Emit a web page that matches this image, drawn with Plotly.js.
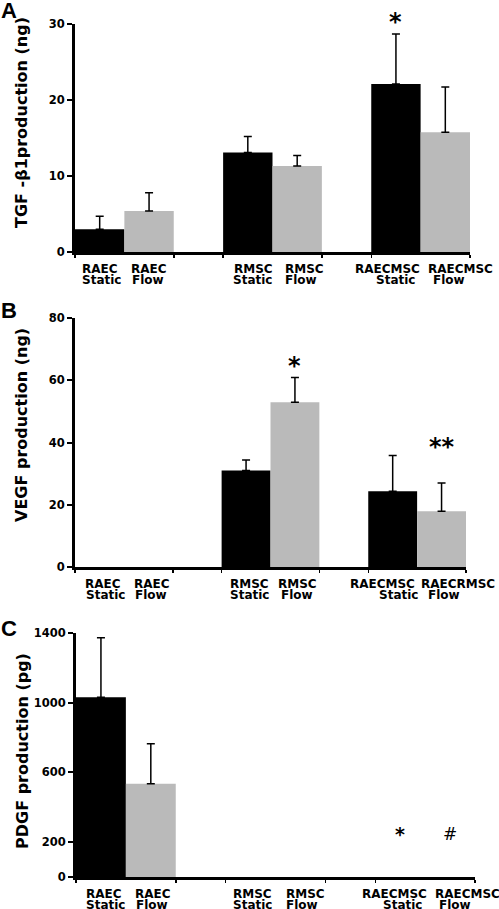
<!DOCTYPE html>
<html>
<head>
<meta charset="utf-8">
<script src="https://cdn.plot.ly/plotly-3.0.1.min.js"></script>
<style>html,body{margin:0;padding:0;background:#fff;}#chart{width:499px;height:909px;}</style>
</head>
<body>
<div id="chart"></div>
<script>
// ---- data ----
const groups = ['RAEC', 'RMSC', 'RAECMSC'];
const conditions = ['Static', 'Flow'];

const panelLetters = ['A', 'B', 'C'];
const yTitles = ['TGF -β1production (ng)', 'VEGF production (ng)', 'PDGF production (pg)'];

const tgfStatic = [3.0, 13.1, 22.1];
const tgfStaticErr = [1.7, 2.1, 6.6];
const tgfFlow = [5.4, 11.3, 15.75];
const tgfFlowErr = [2.4, 1.4, 5.95];

const vegfStatic = [0, 31.0, 24.3];
const vegfStaticErr = [0, 3.4, 11.5];
const vegfFlow = [0, 52.9, 17.9];
const vegfFlowErr = [0, 8.0, 9.1];

const pdgfStatic = [1032, 0, 0];
const pdgfStaticErr = [341, 0, 0];
const pdgfFlow = [535, 0, 0];
const pdgfFlowErr = [230, 0, 0];

const tgfTicks = [0, 10, 20, 30];
const vegfTicks = [0, 20, 40, 60, 80];
const pdgfTicks = [0, 200, 600, 1000, 1400];

const labelsA = [['RAEC', 'RMSC', 'RAECMSC'], ['RAEC', 'RMSC', 'RAECMSC']];
const labelsB = [['RAEC', 'RMSC', 'RAECMSC'], ['RAEC', 'RMSC', 'RAECRMSC']];
const labelsC = [['RAEC', 'RMSC', 'RAECMSC'], ['RAEC', 'RMSC', 'RAECMSC']];

// significance marks: [panel, condition, group, text]
const marks = [
  [0, 0, 2, '*'],
  [1, 1, 1, '*'],
  [1, 1, 2, '**'],
  [2, 0, 2, '*'],
  [2, 1, 2, '#']
];

// ---- layout / styling ----
const W = 499, H = 909;
// label horizontal nudges in px: [condition][group] for line 1 and line 2
const panels = [
  {vals: [tgfStatic, tgfFlow], errs: [tgfStaticErr, tgfFlowErr], ticks: tgfTicks, labels: labelsA,
   px: [75, 470], py: [24, 252], titleY: 123, letterY: 11,
   nudge1: [[0, 6, -8], [0, 7, 15]], nudge2: [[2, 5, 0], [-1, 4, 4]]},
  {vals: [vegfStatic, vegfFlow], errs: [vegfStaticErr, vegfFlowErr], ticks: vegfTicks, labels: labelsB,
   px: [75, 466], py: [318, 567], titleY: 425, letterY: 311,
   nudge1: [[4, 3, -10], [4, 3, 16]], nudge2: [[6, 3, 6], [3, 2, 2]]},
  {vals: [pdgfStatic, pdgfFlow], errs: [pdgfStaticErr, pdgfFlowErr], ticks: pdgfTicks, labels: labelsC,
   px: [76, 475], py: [633, 877], titleY: 751, letterY: 628,
   nudge1: [[3, 2, -6], [2, 5, 17]], nudge2: [[5, 2, 2], [1, 2, 5]]}
];
const markLift = [12, 11, 36, 43, 43];
const markSize = [24, 24, 24, 19, 17];
const colors = ['#000000', '#bababa'];
const FONT = 'DejaVu Sans, Verdana, sans-serif';
const half = 1 / 6; // bar half-width with bargap 1/3
const labelFont = {family: FONT, size: 12, weight: 'bold', color: '#000'};

const traces = [];
const annotations = [];
const layout = {
  width: W, height: H,
  margin: {l: 0, r: 0, t: 0, b: 0},
  paper_bgcolor: '#fff', plot_bgcolor: 'rgba(0,0,0,0)',
  showlegend: false,
  barmode: 'group', bargap: 1 / 3, bargroupgap: 0,
  font: {family: FONT, color: '#000'}
};

panels.forEach((p, i) => {
  const sfx = i === 0 ? '' : String(i + 1);
  const xa = 'x' + sfx, ya = 'y' + sfx;
  conditions.forEach((c, ci) => {
    const err = p.errs[ci];
    traces.push({
      type: 'bar', x: groups.map((g, gi) => gi), y: p.vals[ci],
      xaxis: xa, yaxis: ya, name: c,
      marker: {color: colors[ci], line: {width: 0}},
      error_y: {type: 'data', symmetric: false,
        array: err.map(e => e > 0 ? e : NaN),
        arrayminus: err.map(e => e > 0 ? 0 : NaN),
        color: '#000', thickness: 1.5, width: 4},
      hoverinfo: 'skip'
    });
  });
  layout['xaxis' + sfx] = {
    domain: [p.px[0] / W, p.px[1] / W], anchor: ya,
    range: [-2 * half, 2 + 2 * half], type: 'linear',
    showline: true, linewidth: 3, linecolor: '#000',
    showgrid: false, zeroline: false, showticklabels: false, ticks: '',
    minor: {ticks: 'outside', ticklen: 3, tickwidth: 1.5, tickcolor: '#000',
      tick0: -2 * half, dtick: 2 * half, showgrid: false},
    fixedrange: true
  };
  layout['yaxis' + sfx] = {
    domain: [1 - p.py[1] / H, 1 - p.py[0] / H], anchor: xa,
    range: [0, p.ticks[p.ticks.length - 1]],
    showline: true, linewidth: 3, linecolor: '#000',
    showgrid: false, zeroline: false,
    ticks: 'outside', ticklen: 5, tickwidth: 2, tickcolor: '#000',
    tickvals: p.ticks, ticktext: p.ticks.map(String),
    tickfont: {family: FONT, size: 11.5, weight: 'bold', color: '#000'},
    fixedrange: true
  };
  // category labels (two lines)
  conditions.forEach((c, ci) => {
    groups.forEach((g, gi) => {
      const xc = gi + (ci === 0 ? -half : half);
      annotations.push({xref: xa, yref: ya, x: xc, y: 0, yanchor: 'top', xanchor: 'center',
        yshift: -9, xshift: p.nudge1[ci][gi], showarrow: false, text: p.labels[ci][gi],
        borderpad: 0, font: labelFont});
      annotations.push({xref: xa, yref: ya, x: xc, y: 0, yanchor: 'top', xanchor: 'center',
        yshift: -19.5, xshift: p.nudge2[ci][gi], showarrow: false, text: c,
        borderpad: 0, font: labelFont});
    });
  });
  // y title
  annotations.push({xref: 'paper', yref: 'paper', x: 22 / W, y: 1 - p.titleY / H,
    xanchor: 'center', yanchor: 'middle', textangle: -90, showarrow: false,
    text: yTitles[i], font: {family: FONT, size: 16, weight: 'bold', color: '#000'}});
  // panel letter
  annotations.push({xref: 'paper', yref: 'paper', x: 0, y: 1 - p.letterY / H,
    xanchor: 'left', yanchor: 'middle', showarrow: false, text: panelLetters[i],
    borderpad: 0, font: {family: 'Liberation Sans, Arial, sans-serif', size: 22, weight: 'bold', color: '#000'}});
});

marks.forEach((m, k) => {
  const [pi, ci, gi, txt] = m;
  const p = panels[pi];
  const sfx = pi === 0 ? '' : String(pi + 1);
  annotations.push({xref: 'x' + sfx, yref: 'y' + sfx,
    x: gi + (ci === 0 ? -half : half), y: p.vals[ci][gi] + p.errs[ci][gi],
    yanchor: 'middle', xanchor: 'center', yshift: markLift[k], showarrow: false, text: txt,
    font: {family: FONT, size: markSize[k], weight: txt === '#' ? 'normal' : 'bold', color: '#000'}});
});

layout.annotations = annotations;
Plotly.newPlot('chart', traces, layout, {displayModeBar: false, staticPlot: true});
</script>
</body>
</html>
